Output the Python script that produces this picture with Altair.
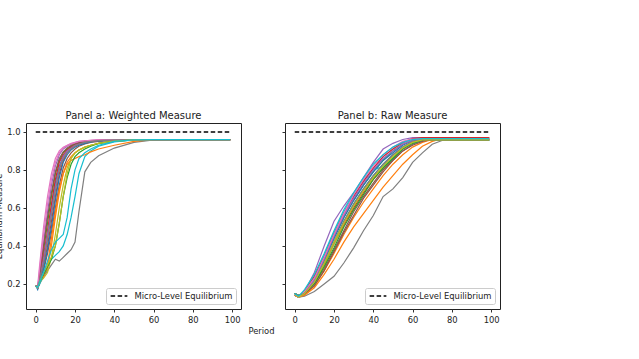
import altair as alt
import pandas as pd

# ---------------- data ----------------
periods_a = [0, 1, 2, 4, 6, 8, 10, 12, 14, 16, 18, 20, 22, 25, 28, 32, 40, 50, 60, 99]
wa_00 = [.19, .18, .22, .32, .45, .60, .73, .82, .87, .90, .915, .925, .935, .945, .95, .954, .958, .96, .96, .96]
wa_01 = [.19, .18, .21, .24, .28, .40, .55, .68, .78, .84, .87, .89, .905, .92, .93, .94, .95, .958, .96, .96]
wa_02 = [.19, .18, .24, .38, .52, .66, .78, .85, .89, .91, .925, .935, .94, .948, .952, .955, .958, .96, .96, .96]
wa_03 = [.19, .18, .22, .30, .40, .53, .66, .78, .85, .89, .91, .925, .935, .945, .95, .954, .958, .96, .96, .96]
wa_04 = [.19, .18, .26, .42, .58, .72, .82, .88, .91, .925, .935, .943, .948, .952, .955, .957, .959, .96, .96, .96]
wa_05 = [.19, .18, .21, .27, .36, .47, .60, .72, .81, .86, .89, .91, .925, .937, .945, .95, .956, .96, .96, .96]
wa_06 = [.19, .19, .30, .50, .66, .78, .86, .90, .92, .93, .94, .945, .95, .953, .956, .958, .96, .96, .96, .96]
wa_07 = [.19, .18, .20, .24, .27, .30, .33, .32, .34, .36, .38, .42, .58, .79, .84, .875, .915, .945, .958, .96]
wa_08 = [.19, .18, .21, .23, .26, .34, .46, .60, .72, .81, .86, .89, .905, .92, .93, .94, .952, .958, .96, .96]
wa_09 = [.19, .18, .20, .25, .30, .33, .35, .37, .40, .46, .55, .66, .78, .87, .90, .925, .948, .958, .96, .96]
wa_10 = [.19, .17, .21, .28, .38, .50, .64, .76, .84, .88, .905, .92, .93, .94, .948, .953, .957, .96, .96, .96]
wa_11 = [.19, .18, .22, .24, .30, .44, .58, .70, .78, .83, .85, .86, .87, .88, .895, .91, .93, .95, .96, .96]
wa_12 = [.19, .18, .21, .25, .29, .33, .40, .52, .66, .76, .83, .87, .89, .91, .925, .94, .952, .958, .96, .96]
wa_13 = [.19, .18, .23, .35, .48, .62, .75, .84, .88, .905, .92, .93, .94, .948, .952, .955, .958, .96, .96, .96]
wa_14 = [.19, .18, .23, .33, .46, .58, .71, .81, .87, .90, .915, .928, .938, .946, .951, .955, .958, .96, .96, .96]
wa_15 = [.19, .18, .25, .40, .55, .68, .79, .86, .895, .915, .928, .938, .944, .95, .953, .956, .958, .96, .96, .96]
wa_16 = [.19, .18, .28, .46, .62, .75, .84, .89, .915, .928, .938, .944, .95, .953, .956, .958, .96, .96, .96, .96]
wa_17 = [.19, .18, .22, .31, .43, .56, .69, .80, .86, .89, .91, .925, .935, .945, .95, .954, .958, .96, .96, .96]
wa_18 = [.19, .18, .21, .26, .30, .34, .40, .52, .66, .78, .86, .89, .905, .92, .93, .94, .952, .958, .96, .96]
wa_19 = [.19, .18, .21, .26, .32, .38, .42, .44, .46, .55, .70, .80, .86, .89, .91, .93, .95, .958, .96, .96]
weighted_runs = [wa_00, wa_01, wa_02, wa_03, wa_04, wa_05, wa_06, wa_07, wa_08, wa_09,
                 wa_10, wa_11, wa_12, wa_13, wa_14, wa_15, wa_16, wa_17, wa_18, wa_19]

periods_b = [0, 2, 5, 10, 15, 20, 25, 30, 35, 40, 45, 50, 55, 60, 65, 70, 75, 80, 99]
rb_00 = [.15, .135, .15, .22, .31, .42, .53, .62, .70, .77, .83, .88, .92, .945, .958, .96, .96, .96, .96]
rb_01 = [.14, .13, .14, .18, .25, .33, .42, .50, .57, .64, .71, .77, .83, .88, .925, .95, .965, .965, .965]
rb_02 = [.15, .135, .16, .23, .33, .44, .55, .64, .72, .79, .85, .90, .935, .955, .955, .955, .955, .955, .955]
rb_03 = [.14, .13, .15, .21, .30, .41, .51, .60, .68, .75, .81, .86, .91, .945, .965, .968, .968, .968, .968]
rb_04 = [.14, .13, .16, .26, .40, .53, .61, .68, .76, .84, .91, .94, .96, .97, .97, .97, .97, .97, .97]
rb_05 = [.15, .14, .15, .20, .28, .38, .48, .58, .66, .73, .80, .85, .90, .935, .955, .962, .962, .962, .962]
rb_06 = [.14, .13, .16, .24, .35, .47, .57, .66, .74, .81, .87, .91, .94, .96, .965, .965, .965, .965, .965]
rb_07 = [.14, .13, .135, .16, .20, .24, .31, .39, .48, .56, .66, .70, .76, .84, .89, .935, .955, .955, .955]
rb_08 = [.15, .135, .15, .21, .30, .41, .52, .61, .69, .76, .82, .87, .92, .95, .97, .97, .97, .97, .97]
rb_09 = [.15, .13, .16, .24, .35, .47, .58, .67, .75, .80, .82, .86, .91, .94, .955, .955, .955, .955, .955]
rb_10 = [.14, .13, .15, .22, .32, .44, .55, .64, .72, .79, .85, .89, .93, .955, .958, .958, .958, .958, .958]
rb_11 = [.14, .13, .14, .19, .27, .36, .46, .55, .63, .70, .77, .83, .88, .92, .945, .96, .96, .96, .96]
rb_12 = [.15, .14, .15, .20, .29, .39, .50, .59, .67, .75, .81, .86, .91, .94, .955, .96, .96, .96, .96]
rb_13 = [.14, .13, .16, .24, .34, .46, .57, .66, .74, .81, .87, .91, .945, .965, .97, .97, .97, .97, .97]
rb_14 = [.14, .13, .15, .22, .33, .45, .56, .65, .73, .80, .86, .90, .935, .955, .965, .965, .965, .965, .965]
rb_15 = [.15, .135, .15, .19, .27, .37, .47, .56, .65, .72, .79, .85, .90, .93, .95, .96, .96, .96, .96]
rb_16 = [.14, .13, .16, .23, .34, .46, .57, .67, .75, .82, .88, .92, .95, .962, .962, .962, .962, .962, .962]
rb_17 = [.15, .14, .15, .21, .31, .42, .53, .62, .70, .77, .83, .88, .92, .95, .96, .96, .96, .96, .96]
rb_18 = [.14, .13, .15, .21, .31, .42, .52, .61, .69, .76, .82, .87, .915, .945, .958, .958, .958, .958, .958]
rb_19 = [.15, .135, .17, .25, .36, .48, .59, .68, .76, .83, .88, .92, .945, .96, .965, .965, .965, .965, .965]
raw_runs = [rb_00, rb_01, rb_02, rb_03, rb_04, rb_05, rb_06, rb_07, rb_08, rb_09,
            rb_10, rb_11, rb_12, rb_13, rb_14, rb_15, rb_16, rb_17, rb_18, rb_19]

eq_periods = [0, 99]
eq_level = [1.0, 1.0]
eq_label = "Micro-Level Equilibrium"
panel_titles = ["Panel a: Weighted Measure", "Panel b: Raw Measure"]
x_title = "Period"
y_title = "Equilibrium Measure"
x_ticks = [0, 20, 40, 60, 80, 100]
y_ticks = [0.2, 0.4, 0.6, 0.8, 1.0]

# ---------------- styles ----------------
TAB10 = ["#1f77b4", "#ff7f0e", "#2ca02c", "#d62728", "#9467bd",
         "#8c564b", "#e377c2", "#7f7f7f", "#bcbd22", "#17becf"]
FONT = "DejaVu Sans"
X_DOMAIN = [-4.95, 104.5]
Y_DOMAIN = [0.068, 1.047]
W, H = 215, 186


def to_long(periods, runs, prefix):
    rows = []
    for i, run in enumerate(runs):
        for p, v in zip(periods, run):
            rows.append({"run": f"{prefix}{i:02d}", "period": p, "value": v})
    return pd.DataFrame(rows)


eq_df = pd.DataFrame({"period": eq_periods, "value": eq_level, "label": [eq_label] * len(eq_periods)})


def panel(df, title, first):
    run_ids = list(dict.fromkeys(df["run"]))
    colors = [TAB10[i % len(TAB10)] for i in range(len(run_ids))]
    x_axis = dict(values=x_ticks, format="d", grid=False, domain=False, tickSize=3,
                  tickColor="#333", labelFontSize=8.4, labelColor="#222", labelPadding=3,
                  labelFont=FONT)
    y_axis = dict(values=y_ticks, format=".1f", grid=False, domain=False, tickSize=3,
                  tickColor="#333", labelFontSize=8.4, labelColor="#222", labelPadding=3,
                  labelFont=FONT)
    if first:
        x_axis.update(title=x_title, titleX=235, titleFontSize=8.4, titleFontWeight="normal",
                      titleColor="#222", titlePadding=3, titleFont=FONT, titleAlign="center")
        y_axis.update(title=y_title, titleFontSize=8.4, titleFontWeight="normal",
                      titleColor="#222", titlePadding=3, titleFont=FONT)
    else:
        x_axis.update(title=None)
        y_axis.update(title=None, labels=False)

    xs = alt.Scale(domain=X_DOMAIN, nice=False, zero=False)
    ys = alt.Scale(domain=Y_DOMAIN, nice=False, zero=False)

    lines = alt.Chart(df).mark_line(strokeWidth=1.2, clip=True).encode(
        x=alt.X("period:Q", scale=xs, axis=alt.Axis(**x_axis)),
        y=alt.Y("value:Q", scale=ys, axis=alt.Axis(**y_axis)),
        color=alt.Color("run:N", scale=alt.Scale(domain=run_ids, range=colors), legend=None),
        detail="run:N",
    )
    eq = alt.Chart(eq_df).mark_line(color="black", strokeWidth=1.5).encode(
        x=alt.X("period:Q", scale=xs),
        y=alt.Y("value:Q", scale=ys),
        strokeDash=alt.StrokeDash(
            "label:N",
            scale=alt.Scale(domain=[eq_label], range=[[4.5, 2.5]]),
            legend=alt.Legend(
                orient="bottom-right", title=None, offset=5, padding=3.5,
                strokeColor="#cccccc", fillColor="white", cornerRadius=2,
                symbolType="stroke", symbolSize=280, symbolStrokeColor="black",
                symbolStrokeWidth=1.5, labelFontSize=8.4, labelFont=FONT,
                labelColor="#222", labelOffset=6, clipHeight=9,
            ),
        ),
    )
    return alt.layer(lines, eq).properties(
        width=W, height=H,
        title=alt.Title(title, fontSize=10, fontWeight="normal", font=FONT, color="#222",
                        offset=-6, baseline="alphabetic", anchor="middle"),
    )


pa = panel(to_long(periods_a, weighted_runs, "a"), panel_titles[0], True)
pb = panel(to_long(periods_b, raw_runs, "b"), panel_titles[1], False)

chart = alt.hconcat(pa, pb, spacing=6).resolve_scale(
    color="independent", strokeDash="independent"
).resolve_legend(strokeDash="independent").properties(
    padding={"left": -6, "top": 110, "right": 5, "bottom": 5}
).configure(font=FONT, background="white").configure_view(stroke="#222", strokeWidth=1)

chart.save("out.html", embed_options={"renderer": "svg", "actions": False})
